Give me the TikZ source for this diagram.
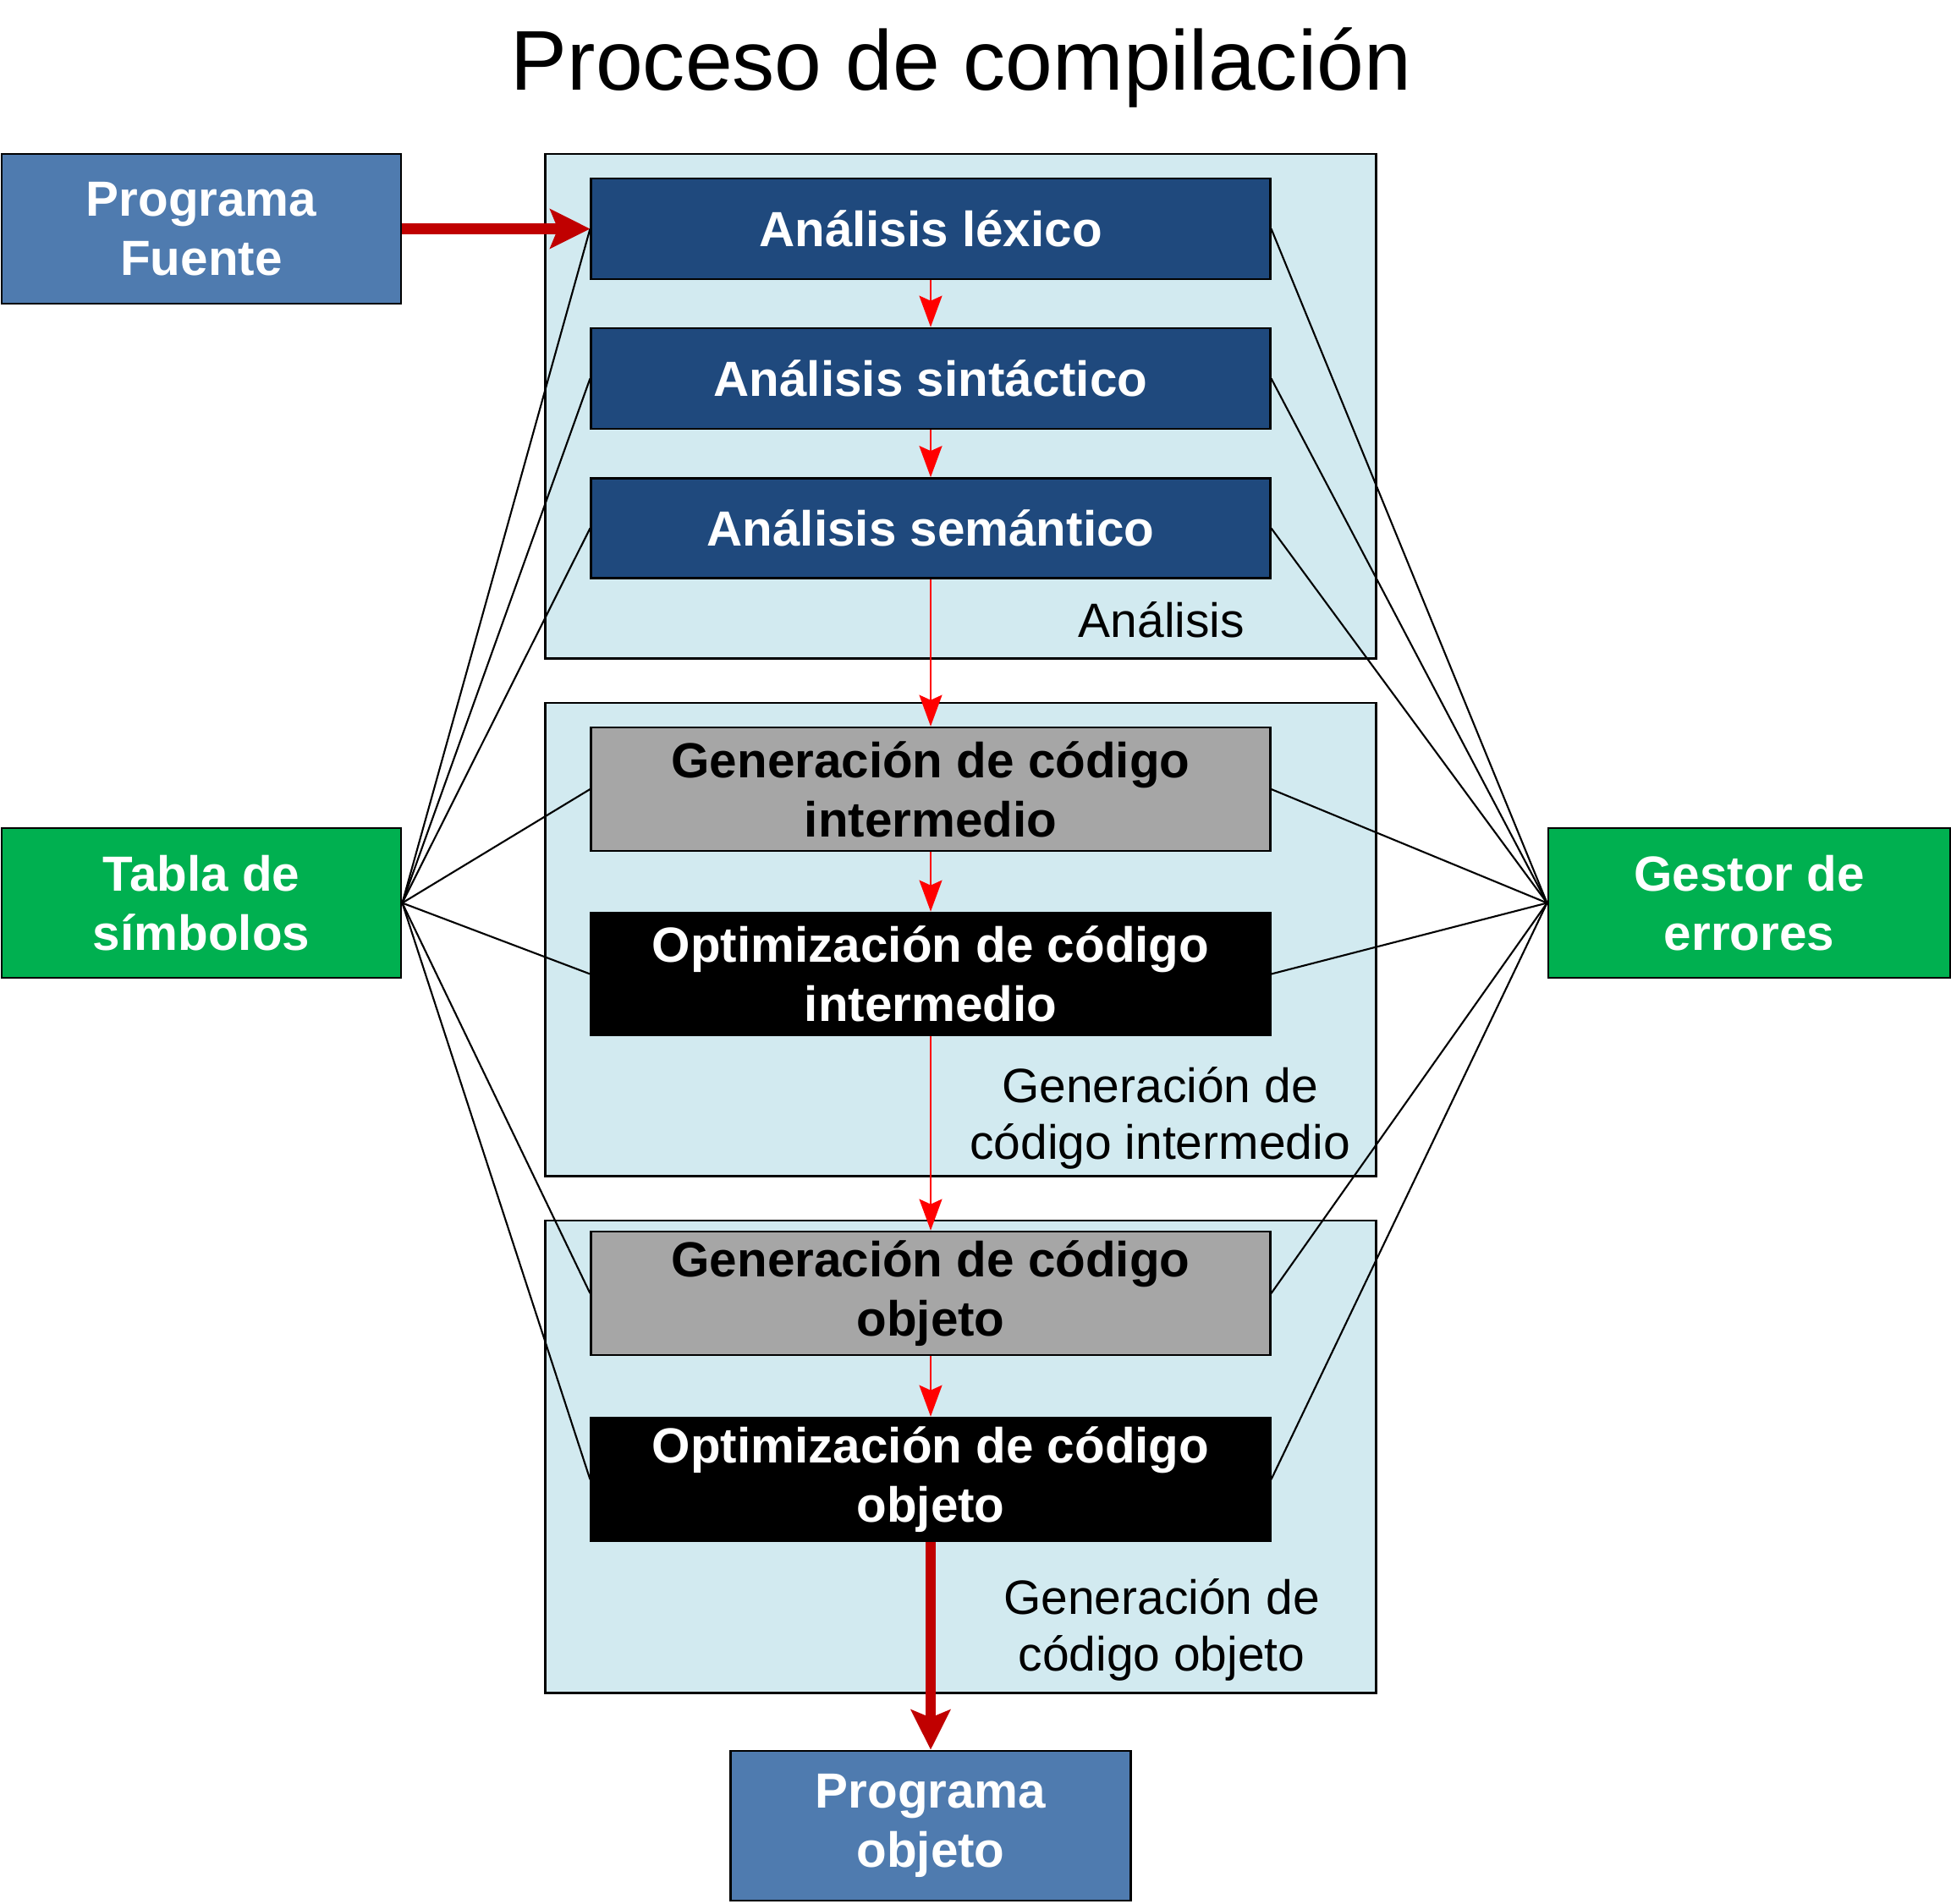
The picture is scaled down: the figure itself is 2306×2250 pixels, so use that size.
\documentclass[tikz,border=0pt]{standalone}
\usepackage{fontspec}
\setmainfont{Liberation Sans}
\usetikzlibrary{arrows.meta}
\definecolor{pblue}{RGB}{79,123,175}
\definecolor{dblue}{RGB}{31,73,125}
\definecolor{sgreen}{RGB}{0,176,80}
\definecolor{sgray}{RGB}{166,166,166}
\definecolor{gfill}{RGB}{210,234,240}
\definecolor{darkred}{RGB}{192,0,0}
\begin{document}
\begin{tikzpicture}[x=0.01cm,y=-0.01cm,
 box/.style={draw=black, line width=0.75pt, rectangle, inner sep=0pt, align=center, font=\fontsize{16.6}{19.9}\selectfont\bfseries},
 outerbox/.style={box, minimum width=4.72cm, minimum height=1.77cm, text=white},
 stage/.style={box, minimum width=8.02cm},
 grp/.style={draw=black, line width=0.75pt, fill=gfill, rectangle, inner sep=0pt, minimum width=9.81cm},
 glabel/.style={font=\fontsize{16.2}{19}\selectfont, align=center, inner sep=0pt},
 link/.style={line width=0.6pt, black},
 flow/.style={draw=red, line width=0.6pt, -{Stealth[length=3.7mm, width=2.7mm, inset=0.6mm]}},
 bigflow/.style={draw=darkred, line width=0.125cm, -{Stealth[length=4.7mm, width=4.6mm, inset=0.9mm]}}
]
\useasboundingbox (0,0) rectangle (2306,2250);

% title
\node[font=\fontsize{28.5}{34}\selectfont, anchor=base, inner sep=0pt] (title) at (1136,106) {Proceso de compilación};

% groups
\node[grp, minimum height=5.96cm] (g1) at (1135.5,480) {};
\node[grp, minimum height=5.59cm] (g2) at (1135.5,1110.5) {};
\node[grp, minimum height=5.58cm] (g3) at (1135.5,1722) {};

% group labels (base = baseline of last line)
\node[glabel, anchor=base] (l1) at (1373,753) {Análisis};
\node[glabel, anchor=base] (l2) at (1371,1370) {Generación de\\código intermedio};
\node[glabel, anchor=base] (l3) at (1373,1975) {Generación de\\código objeto};

% outer boxes
\node[outerbox, fill=pblue] (pf) at (238,270.5) {Programa\\Fuente};
\node[outerbox, fill=sgreen] (ts) at (238,1067.5) {Tabla de\\símbolos};
\node[outerbox, fill=sgreen, minimum width=4.75cm] (ge) at (2067.5,1067.5) {Gestor de\\errores};
\node[outerbox, fill=pblue, minimum width=4.73cm] (po) at (1100,2158.5) {Programa\\objeto};

% stages
\node[stage, fill=dblue, text=white, minimum height=1.19cm] (lex) at (1100,270.5) {Análisis léxico};
\node[stage, fill=dblue, text=white, minimum height=1.19cm] (sin) at (1100,447.5) {Análisis sintáctico};
\node[stage, fill=dblue, text=white, minimum height=1.18cm] (sem) at (1100,624.5) {Análisis semántico};
\node[stage, fill=sgray, text=black, minimum height=1.46cm] (gi) at (1100,933) {Generación de código\\intermedio};
\node[stage, fill=black, text=white, minimum height=1.45cm] (oi) at (1100,1151.5) {Optimización de código\\intermedio};
\node[stage, fill=sgray, text=black, minimum height=1.46cm] (go) at (1100,1529) {Generación de código\\objeto};
\node[stage, fill=black, text=white, minimum height=1.46cm] (oo) at (1100,1749) {Optimización de código\\objeto};

% links to symbol table and error manager
\foreach \n in {lex,sin,sem,gi,oi,go,oo} {
  \draw[link] (ts.east) -- (\n.west);
  \draw[link] (ge.west) -- (\n.east);
}

% flows
\draw[flow] (lex.south) -- (sin.north);
\draw[flow] (sin.south) -- (sem.north);
\draw[flow] (sem.south) -- (gi.north);
\draw[flow] (gi.south) -- (oi.north);
\draw[flow] (oi.south) -- (go.north);
\draw[flow] (go.south) -- (oo.north);
\draw[bigflow] (pf.east) -- (lex.west);
\draw[bigflow] (oo.south) -- (po.north);
\end{tikzpicture}
\end{document}
